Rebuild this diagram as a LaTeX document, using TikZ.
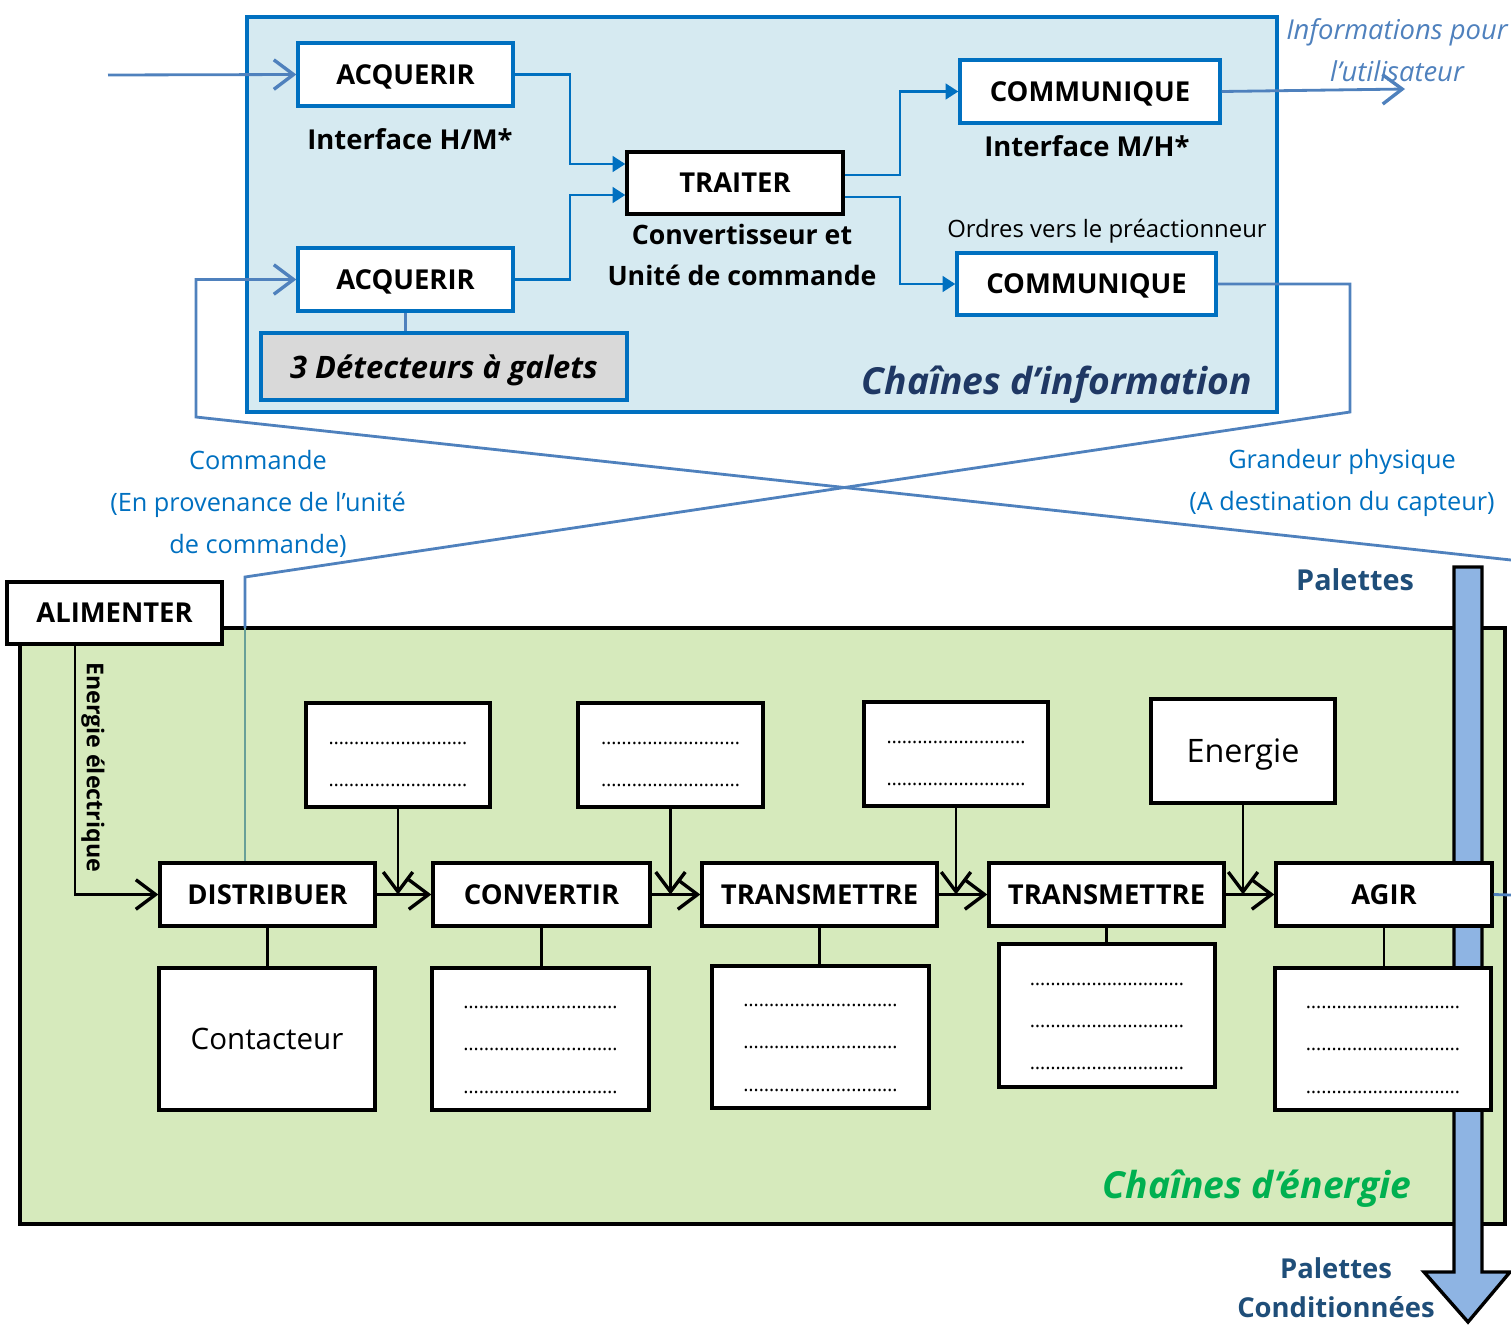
\documentclass[tikz,border=0pt]{standalone}
\usepackage{fontspec}
\setmainfont{Open Sans}
\usetikzlibrary{arrows.meta}

\definecolor{infofond}{RGB}{214,234,241}
\definecolor{infobleu}{RGB}{0,112,192}
\definecolor{signalbleu}{RGB}{79,129,189}
\definecolor{energiefond}{RGB}{214,234,188}
\definecolor{titrebleu}{RGB}{31,56,100}
\definecolor{palettebleu}{RGB}{31,78,121}
\definecolor{titrevert}{RGB}{0,176,80}
\definecolor{barrefond}{RGB}{142,180,227}
\definecolor{detectfond}{RGB}{217,217,217}
\definecolor{lienvert}{RGB}{104,160,152}

\newcommand\pointilles[1]{\foreach\i in {1,...,#1}{…}}

\tikzset{
  taille/.style 2 args={minimum width=#1*0.25mm, minimum height=#2*0.25mm, inner sep=0pt},
  infobox/.style={draw=infobleu, line width=2.4pt, fill=white, text depth=0pt, font=\fontsize{19.5}{23}\selectfont\bfseries},
  energybox/.style={draw=black, line width=2.4pt, fill=white, text depth=0pt, font=\fontsize{19.5}{23}\selectfont\bfseries},
  pointbox/.style={energybox, align=center, text depth=0pt, font=\fontsize{14}{30}\selectfont},
  infoarrow/.style={draw=infobleu, line width=2pt, -{Triangle[length=9pt,width=11pt]}},
  signal/.style={draw=signalbleu, line width=2pt},
  chevron/.style={-{Straight Barb[length=14pt,width=21pt,line width=2.4pt]}},
  energyarrow/.style={draw=black, line width=2pt, chevron},
  link/.style={draw=black, line width=2pt},
  legende/.style={font=\fontsize{18}{30}\selectfont, align=center},
  gras/.style={font=\fontsize{19.5}{29}\selectfont\bfseries, align=center},
  palette/.style={text=palettebleu, font=\fontsize{20.5}{28}\selectfont\bfseries, align=center},
}

\begin{document}
\begin{tikzpicture}[x=0.25mm, y=-0.25mm]
  \useasboundingbox (0,0) rectangle (1511,1324);

  % chaine d'information
  \draw[draw=infobleu, fill=infofond, line width=2.4pt] (247,17) rectangle (1277,412);
  \node[infobox, taille={215}{63}] (acq1) at (405.5,74.5) {ACQUERIR};
  \node[infobox, taille={215}{63}] (acq2) at (405.5,279.5) {ACQUERIR};
  \node[infobox, taille={366}{67}, fill=detectfond, font=\fontsize{22}{26}\selectfont\bfseries\itshape] (detect) at (444,366.5) {3 Détecteurs à galets};
  \node[energybox, taille={216}{62}] (traiter) at (735,183) {TRAITER};
  \node[infobox, taille={260}{63}] (comm1) at (1090,91.5) {COMMUNIQUE};
  \node[infobox, taille={259}{62}] (comm2) at (1086.5,284) {COMMUNIQUE};

  \node[gras] (ihm) at (410,139) {Interface H/M*};
  \node[gras, font=\fontsize{19}{29}\selectfont\bfseries] (unite) at (742,255) {Convertisseur et\\Unité de commande};
  \node[gras] (imh) at (1087,146) {Interface M/H*};
  \node[font=\fontsize{17}{20}\selectfont] (ordres) at (1107,231) {Ordres vers le préactionneur};
  \node[text=titrebleu, font=\fontsize{26.5}{30}\selectfont\bfseries\itshape] (ci) at (1057,385) {Chaînes d’information};
  \node[legende, text=signalbleu, font=\fontsize{19.5}{30}\selectfont\itshape] (infos) at (1397,50) {Informations pour\\l’utilisateur};

  \coordinate (entree) at (108,75);
  \coordinate (sortie) at (1405,89);
  \draw[signal, chevron] (entree) -- (acq1.west);
  \draw[signal, chevron] (comm1.east) -- (sortie);
  \draw[infoarrow] (acq1.east) -- (570,74.5) |- (traiter.west |- 0,164);
  \draw[infoarrow] (acq2.east) -- (570,279.5) |- (traiter.west |- 0,195);
  \draw[infoarrow] (traiter.east |- 0,175) -- (900,175) |- (comm1.west);
  \draw[infoarrow] (traiter.east |- 0,197) -- (900,197) |- (comm2.west);
  \draw[signal] (acq2.south) -- (detect.north -| acq2.south);

  % liaisons entre les chaines
  \node[legende, text=infobleu] (cmd) at (258,504) {Commande\\(En provenance de l’unité\\de commande)};
  \node[legende, text=infobleu] (grand) at (1342,483) {Grandeur physique\\(A destination du capteur)};

  % chaine d'energie
  \draw[draw=black, fill=energiefond, line width=2.4pt] (20,628) rectangle (1505,1224);
  \draw[fill=barrefond, line width=2.4pt] (1454,567) -- (1482,567) -- (1482,1272) -- (1510,1272)
    -- (1468,1322) -- (1424,1272) -- (1454,1272) -- cycle;

  \coordinate (capteur) at (1511,560);
  \coordinate (bord) at (1511,895);
  \draw[signal] (comm2.east) -- (1350,284) -- (1350,412) -- (245,577) -- (245,628);
  \draw[signal, chevron] (capteur) -- (196,417) -- (196,279.5) -- (acq2.west);

  \node[energybox, taille={215}{62}] (alim) at (114.5,613) {ALIMENTER};
  \node[energybox, taille={215}{63}] (distrib) at (267.5,894.5) {DISTRIBUER};
  \node[energybox, taille={217}{63}] (convert) at (541.5,894.5) {CONVERTIR};
  \node[energybox, taille={235}{63}] (trans1) at (819.5,894.5) {TRANSMETTRE};
  \node[energybox, taille={235}{63}] (trans2) at (1106.5,894.5) {TRANSMETTRE};
  \node[energybox, taille={216}{63}] (agir) at (1384,894.5) {AGIR};

  \node[pointbox, taille={184}{104}, text height=45.5pt] (haut1) at (398,755) {\pointilles{9}\\\pointilles{9}};
  \node[pointbox, taille={185}{104}, text height=45.5pt] (haut2) at (670.5,755) {\pointilles{9}\\\pointilles{9}};
  \node[pointbox, taille={184}{104}, text height=45.5pt] (haut3) at (956,754) {\pointilles{9}\\\pointilles{9}};
  \node[energybox, taille={184}{104}, font=\fontsize{23}{27}\selectfont] (energie) at (1243,751) {Energie};

  \node[energybox, taille={216}{142}, font=\fontsize{21}{25}\selectfont] (contact) at (267,1039) {Contacteur};
  \node[pointbox, taille={217}{142}, text height=77pt] (bas2) at (540.5,1039) {\pointilles{10}\\\pointilles{10}\\\pointilles{10}};
  \node[pointbox, taille={217}{142}, text height=77pt] (bas3) at (820.5,1037) {\pointilles{10}\\\pointilles{10}\\\pointilles{10}};
  \node[pointbox, taille={216}{143}, text height=77pt] (bas4) at (1107,1015.5) {\pointilles{10}\\\pointilles{10}\\\pointilles{10}};
  \node[pointbox, taille={216}{142}, text height=77pt] (bas5) at (1383,1039) {\pointilles{10}\\\pointilles{10}\\\pointilles{10}};

  \draw[draw=lienvert, line width=2pt] (245,628) -- (distrib.north -| 245,0);
  \draw[signal] (agir.east) -- (bord);

  \draw[energyarrow] (alim.south -| 75,0) |- (distrib.west);
  \node[rotate=-90, font=\fontsize{16.5}{18}\selectfont\bfseries] (eelec) at (93,767) {Energie électrique};
  \draw[energyarrow] (distrib.east) -- (convert.west);
  \draw[energyarrow] (convert.east) -- (trans1.west);
  \draw[energyarrow] (trans1.east) -- (trans2.west);
  \draw[energyarrow] (trans2.east) -- (agir.west);
  \draw[energyarrow] (haut1.south) -- (haut1.south |- distrib.east);
  \draw[energyarrow] (haut2.south) -- (haut2.south |- convert.east);
  \draw[energyarrow] (haut3.south) -- (haut3.south |- trans1.east);
  \draw[energyarrow] (energie.south) -- (energie.south |- trans2.east);
  \draw[link] (distrib.south) -- (distrib.south |- contact.north);
  \draw[link] (convert.south) -- (convert.south |- bas2.north);
  \draw[link] (trans1.south) -- (trans1.south |- bas3.north);
  \draw[link] (trans2.south) -- (trans2.south |- bas4.north);
  \draw[link] (agir.south) -- (agir.south |- bas5.north);

  \node[text=titrevert, font=\fontsize{26.5}{30}\selectfont\bfseries\itshape] (ce) at (1257,1189) {Chaînes d’énergie};
  \node[palette] (pal1) at (1355,580) {Palettes};
  \node[palette, font=\fontsize{19.5}{28}\selectfont\bfseries] (pal2) at (1336,1288) {Palettes\\Conditionnées};
\end{tikzpicture}
\end{document}
